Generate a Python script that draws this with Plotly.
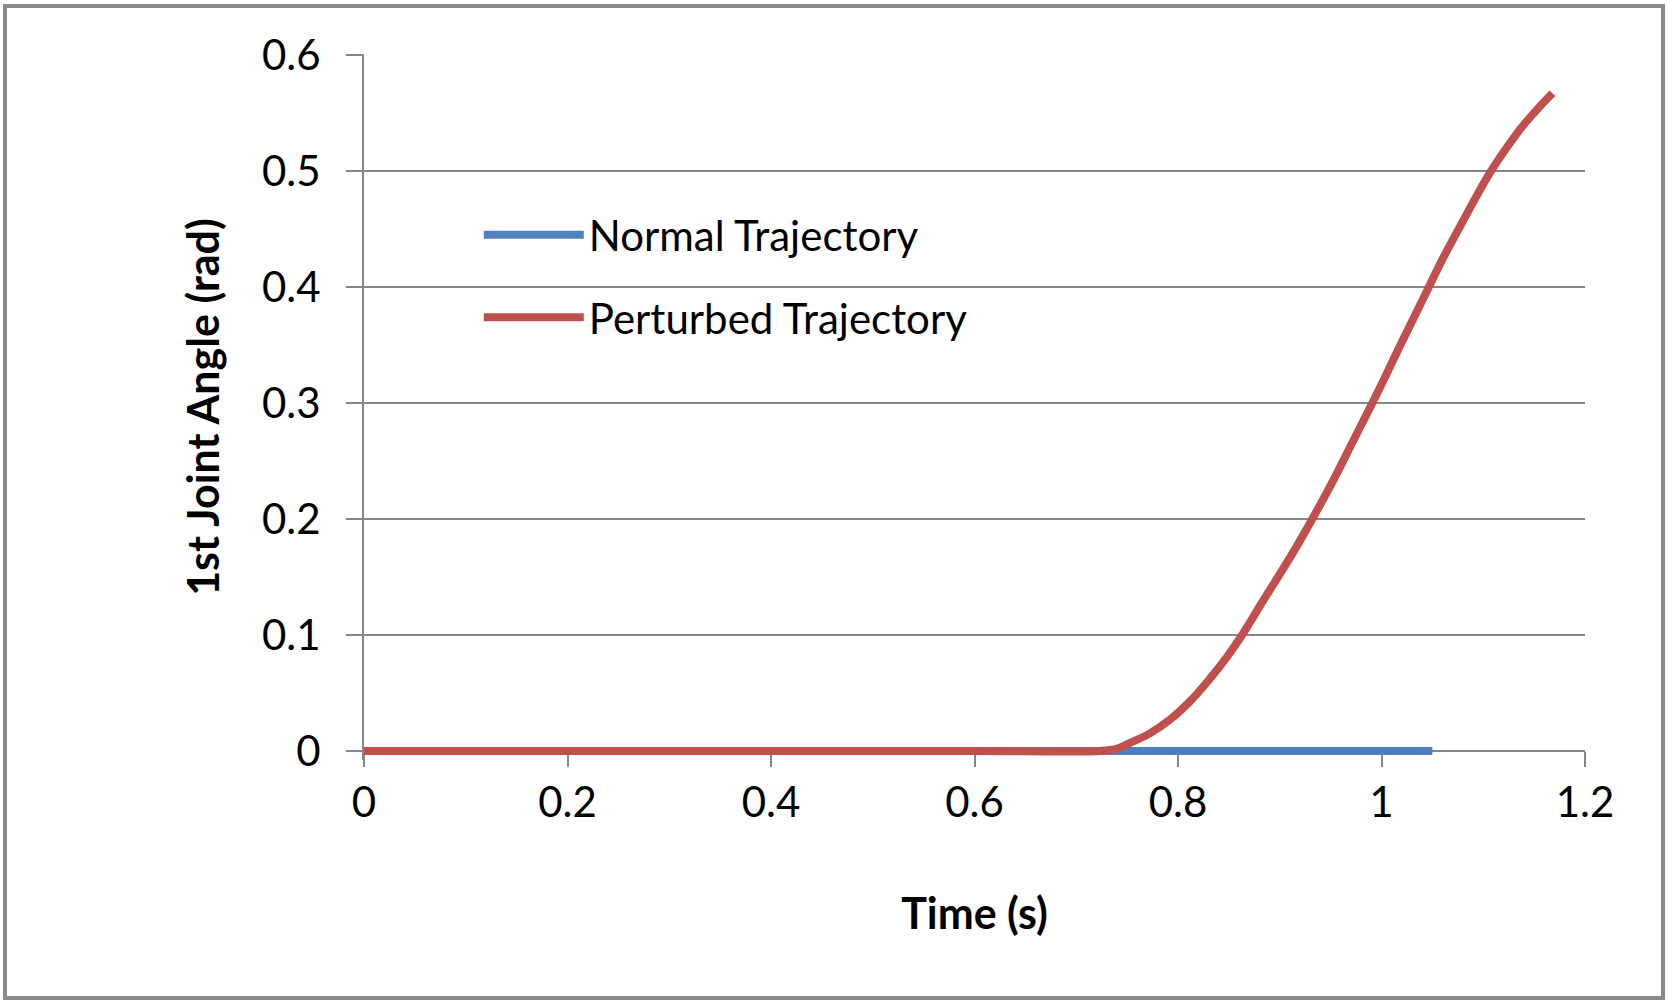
import plotly.graph_objects as go

# ---- data ----
normal_time = [0.0, 0.2, 0.4, 0.6, 0.8, 1.0, 1.05]
normal_angle = [0, 0, 0, 0, 0, 0, 0]

perturbed_time = [0.0, 0.2, 0.4, 0.6, 0.723, 0.740, 0.753, 0.772, 0.792, 0.812,
                  0.831, 0.848, 0.863, 0.884, 0.913, 0.932, 0.953, 0.972,
                  0.991, 1.005, 1.018, 1.032, 1.046, 1.060, 1.074, 1.090,
                  1.107, 1.123, 1.139, 1.156, 1.168]
perturbed_angle = [0, 0, 0, 0, 0, 0.002, 0.007, 0.015, 0.027, 0.043,
                   0.062, 0.081, 0.100, 0.130, 0.171, 0.200, 0.234, 0.267,
                   0.300, 0.325, 0.349, 0.374, 0.399, 0.424, 0.447, 0.473,
                   0.499, 0.520, 0.539, 0.556, 0.567]

x_ticks = [0, 0.2, 0.4, 0.6, 0.8, 1.0, 1.2]
x_tick_text = ["0", "0.2", "0.4", "0.6", "0.8", "1", "1.2"]
y_ticks = [0, 0.1, 0.2, 0.3, 0.4, 0.5, 0.6]
y_tick_text = ["0", "0.1", "0.2", "0.3", "0.4", "0.5", "0.6"]

BLUE = "#4F81BD"
RED = "#C0504D"
GRID = "#868686"
FONT = "Lato"

fig = go.Figure()
fig.add_trace(go.Scatter(x=normal_time, y=normal_angle, mode="lines",
                         name="Normal Trajectory", legendgroup="n",
                         line=dict(color=BLUE, width=8)))
fig.add_trace(go.Scatter(x=perturbed_time, y=perturbed_angle, mode="lines",
                         name="Perturbed Trajectory", legendgroup="p",
                         line=dict(color=RED, width=8, shape="spline", smoothing=1.0)))

W, H = 1668, 1004
L, R, T, B = 364, 1668 - 1585, 54, 1004 - 760
plot_w = W - L - R
plot_h = H - T - B
px_per_unit = 1160.0
eps_lo = 9 / px_per_unit
eps_hi = 1 / px_per_unit

fig.update_layout(
    width=W, height=H,
    margin=dict(l=L, r=R, t=T, b=B, pad=0),
    paper_bgcolor="white", plot_bgcolor="white",
    font=dict(family=FONT, size=42, color="black"),
    showlegend=True,
    legend=dict(x=0.094, y=0.792, xanchor="left", yanchor="top",
                bgcolor="rgba(0,0,0,0)", borderwidth=0,
                font=dict(family=FONT, size=42, color="black"),
                itemwidth=100, tracegroupgap=25),
    xaxis=dict(range=[0, 1.2], tickvals=x_ticks, ticktext=x_tick_text,
               showgrid=False, zeroline=False,
               showline=True, linecolor=GRID, linewidth=2,
               ticks="outside", ticklen=15, tickwidth=2, tickcolor=GRID,
               anchor="free", position=9 / plot_h,
               layer="below traces",
               tickfont=dict(family=FONT, size=42),
               title=dict(text="<b>Time (s)</b>", font=dict(family=FONT, size=43),
                          standoff=72)),
    yaxis=dict(range=[-eps_lo, 0.6 + eps_hi], tickvals=y_ticks, ticktext=y_tick_text,
               showgrid=True, gridcolor=GRID, gridwidth=2,
               zeroline=False,
               showline=True, linecolor=GRID, linewidth=2,
               ticks="outside", ticklen=16, tickwidth=2, tickcolor=GRID,
               ticklabelstandoff=17,
               layer="below traces",
               tickfont=dict(family=FONT, size=42),
               title=dict(text="<b>1st Joint Angle (rad)</b>", font=dict(family=FONT, size=43),
                          standoff=29)),
)

# outer chart border
fig.add_shape(type="rect", xref="paper", yref="paper",
              x0=(5 - L) / plot_w, x1=(1663 - L) / plot_w,
              y0=(760 - 998) / plot_h, y1=(760 - 6) / plot_h,
              line=dict(color="#8A8A8A", width=4), fillcolor="rgba(0,0,0,0)",
              layer="below")

fig.write_html("out.html",
               config={"displayModeBar": False},
               post_script="document.body.style.margin='0';document.body.style.overflow='hidden';")
